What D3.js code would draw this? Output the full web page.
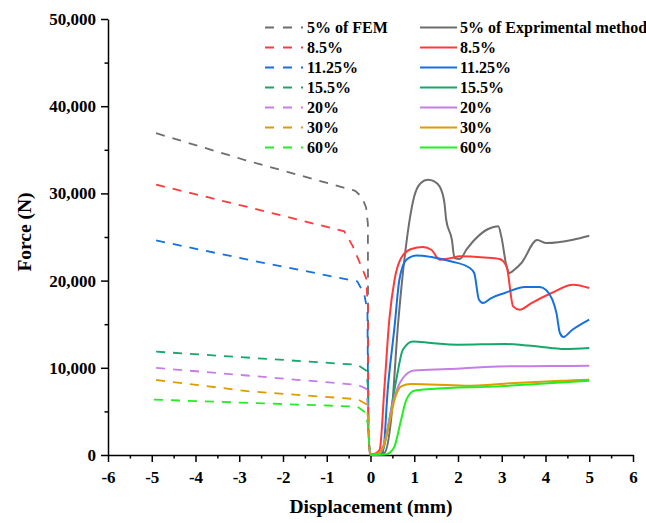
<!DOCTYPE html>
<html>
<head>
<meta charset="utf-8">
<script src="https://cdn.jsdelivr.net/npm/d3@7"></script>
<style>
body { margin: 0; background: #fff; }
text { font-family: "Liberation Serif", "Times New Roman", serif; font-weight: bold; }
.axis path, .axis line { stroke: #000; stroke-width: 1.5px; }
.axis text { font-size: 17px; fill: #000; }
</style>
</head>
<body>
<div id="graph"></div>
<script>
// FEM curves (dashed), displacement in mm, force in N
var fem5 = [[-4.9,36900],[-2.85,33800],[-0.35,30300],[-0.2,29600],[-0.1,28400],[-0.06,26500],[-0.05,3000],[-0.02,300],[0,0]];
var fem85 = [[-4.9,31000],[-2.77,28400],[-0.6,25650],[-0.4,23900],[-0.2,21500],[-0.1,20300],[-0.06,17000],[-0.05,3000],[-0.02,300],[0,0]];
var fem1125 = [[-4.9,24600],[-2.8,22400],[-0.3,19900],[-0.14,18400],[-0.07,16500],[-0.05,3000],[-0.02,300],[0,0]];
var fem155 = [[-4.9,11850],[-0.3,10350],[-0.1,9700],[-0.05,7500],[-0.04,2000],[-0.01,200],[0,0]];
var fem20 = [[-4.9,9990],[-0.3,8050],[-0.1,7600],[-0.05,5000],[-0.03,1000],[0,0]];
var fem30 = [[-4.9,8600],[-2.77,7300],[-0.3,6400],[-0.1,5850],[-0.05,4000],[-0.03,800],[0,0]];
var fem60 = [[-4.95,6350],[-0.3,5550],[-0.1,4800],[-0.05,3000],[-0.02,200],[0.02,0]];

// experimental curves (solid)
var exp5 = [[0,0],[0.15,50],[0.32,250],[0.47,4050],[0.63,15000],[0.82,24300],[1.0,29660],[1.15,31200],[1.31,31570],[1.45,31400],[1.58,30800],[1.69,28900],[1.73,26980],[1.86,24690],[1.92,22590],[2.04,22480],[2.2,23600],[2.38,24690],[2.69,25920],[2.92,26220],[2.99,25070],[3.11,21630],[3.18,20870],[3.3,21300],[3.45,22020],[3.81,24650],[4.02,24310],[4.63,24690],[5.0,25150]];
var exp85 = [[0,0],[0.1,150],[0.21,610],[0.32,7870],[0.43,15520],[0.55,20100],[0.7,22590],[0.93,23620],[1.2,23850],[1.39,23540],[1.58,22400],[1.85,22590],[2.04,22780],[2.6,22650],[2.95,22480],[3.11,21630],[3.26,17040],[3.41,16660],[3.68,17430],[4.14,18580],[4.63,19530],[5.0,19150]];
var exp1125 = [[0,0],[0.12,80],[0.28,230],[0.4,7870],[0.55,14750],[0.66,20100],[0.82,22400],[1.05,22890],[1.39,22710],[1.85,22200],[2.27,21440],[2.37,20870],[2.48,17800],[2.57,17430],[2.76,18000],[3.07,18580],[3.53,19270],[3.87,19270],[4.02,18900],[4.25,16280],[4.33,13990],[4.41,13530],[4.6,14300],[5.0,15520]];
var exp155 = [[0,0],[0.2,100],[0.3,800],[0.43,4050],[0.59,8640],[0.74,12080],[0.97,13030],[1.39,12840],[2.0,12650],[3.07,12730],[3.5,12600],[3.83,12450],[4.44,12160],[5.0,12270]];
var exp20 = [[0,0],[0.2,150],[0.35,2000],[0.51,5960],[0.74,8830],[1.0,9700],[1.77,9860],[2.92,10160],[4.06,10200],[5.0,10240]];
var exp30 = [[0,0],[0.15,150],[0.28,800],[0.4,2900],[0.55,6340],[0.7,7870],[0.93,8140],[2.15,7950],[3.3,8260],[4.44,8520],[5.0,8640]];
var exp60 = [[0,0],[0.32,50],[0.45,300],[0.55,990],[0.7,4050],[0.82,6340],[1.0,7370],[1.39,7570],[2.92,7870],[4.44,8330],[5.0,8520]];

var femLabels = ['5% of FEM', '8.5%', '11.25%', '15.5%', '20%', '30%', '60%'];
var expLabels = ['5% of Exprimental method', '8.5%', '11.25%', '15.5%', '20%', '30%', '60%'];
var colors = ['#6e6e6e', '#ff3a3a', '#1670e0', '#16a86a', '#c67ee6', '#de9c00', '#22ee22'];

var xTicks = [-6, -5, -4, -3, -2, -1, 0, 1, 2, 3, 4, 5, 6];
var yTicks = [0, 10000, 20000, 30000, 40000, 50000];

var femData = [fem5, fem85, fem1125, fem155, fem20, fem30, fem60];
var expData = [exp5, exp85, exp1125, exp155, exp20, exp30, exp60];

var svgWidth = 646, svgHeight = 523,
    margin = {top: 19, right: 13, bottom: 68, left: 108},
    width = svgWidth - margin.left - margin.right,
    height = svgHeight - margin.top - margin.bottom;

var svg = d3.select('#graph').append('svg')
    .attr('width', svgWidth).attr('height', svgHeight)
    .style('background', '#fff');

var g = svg.append('g').attr('transform', 'translate(' + margin.left + ',' + margin.top + ')');

var x = d3.scaleLinear().domain([-6, 6]).range([0, 525]);
var y = d3.scaleLinear().domain([0, 50000]).range([436, 0]);

var line = d3.line().x(function(d) { return x(d[0]); }).y(function(d) { return y(d[1]); });
var smooth = d3.line().x(function(d) { return x(d[0]); }).y(function(d) { return y(d[1]); }).curve(d3.curveMonotoneX);

// minor ticks
g.append('g').attr('class', 'axis')
    .attr('transform', 'translate(0,436)')
    .call(d3.axisBottom(x).tickValues(d3.range(-5.5, 6, 1)).tickSize(3.5).tickSizeOuter(0).tickFormat(''))
    .select('.domain').remove();
g.append('g').attr('class', 'axis')
    .call(d3.axisLeft(y).tickValues(d3.range(5000, 50000, 10000)).tickSize(3.5).tickSizeOuter(0).tickFormat(''))
    .select('.domain').remove();

g.append('g').attr('class', 'axis')
    .attr('transform', 'translate(0,436)')
    .call(d3.axisBottom(x).tickValues(xTicks).tickSize(7).tickSizeOuter(0).tickPadding(9).tickFormat(d3.format('d')));

g.append('g').attr('class', 'axis')
    .call(d3.axisLeft(y).tickValues(yTicks).tickSize(7).tickSizeOuter(0).tickPadding(5).tickFormat(d3.format(',')));

g.selectAll('.axis text').text(function() { return this.textContent.replace('\u2212', '-'); });

femData.forEach(function(d, i) {
  g.append('path').datum(d)
    .attr('fill', 'none').attr('stroke', colors[i]).attr('stroke-width', 1.8)
    .attr('stroke-dasharray', '9,8')
    .attr('d', line);
});
expData.forEach(function(d, i) {
  g.append('path').datum(d)
    .attr('fill', 'none').attr('stroke', colors[i]).attr('stroke-width', 2)
    .attr('d', smooth);
});

// axis titles
svg.append('text')
    .attr('x', 371).attr('y', 513)
    .style('text-anchor', 'middle').style('font-size', '19.5px')
    .text('Displacement (mm)');
svg.append('text')
    .attr('transform', 'translate(31,232) rotate(-90)')
    .style('text-anchor', 'middle').style('font-size', '19.5px')
    .text('Force (N)');

// legend
var legend = svg.append('g');
femLabels.forEach(function(t, i) {
  var yy = 27.5 + i * 20;
  legend.append('line').attr('x1', 265).attr('x2', 303).attr('y1', yy).attr('y2', yy)
    .attr('stroke', colors[i]).attr('stroke-width', 1.8).attr('stroke-dasharray', '9,9');
  legend.append('text').attr('x', 307).attr('y', yy).attr('dy', '0.35em')
    .style('font-size', '16px').text(t);
});
expLabels.forEach(function(t, i) {
  var yy = 27.5 + i * 20;
  legend.append('line').attr('x1', 420).attr('x2', 457).attr('y1', yy).attr('y2', yy)
    .attr('stroke', colors[i]).attr('stroke-width', 2);
  legend.append('text').attr('x', 460).attr('y', yy).attr('dy', '0.35em')
    .style('font-size', '16px').text(t);
});
</script>
</body>
</html>
